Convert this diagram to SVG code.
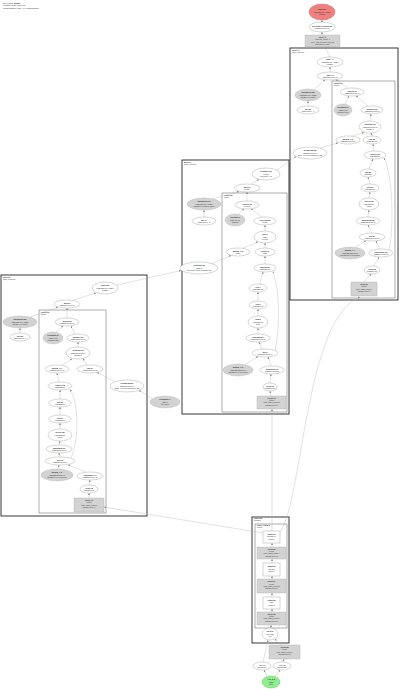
<svg xmlns="http://www.w3.org/2000/svg" width="400" height="689" viewBox="0 0 400 689">
<defs>
<marker id="a" viewBox="0 0 4 4" refX="4" refY="2" markerWidth="2" markerHeight="2" markerUnits="userSpaceOnUse" orient="auto"><path d="M0,0L4,2L0,4z" fill="#888"/></marker>
<style>
.n{fill:#fff;stroke:#888;stroke-width:.35}
.g{fill:#d3d3d3;stroke:#aaa;stroke-width:.35}
.r{fill:#f08080;stroke:#d06060;stroke-width:.4}
.gr{fill:#90ee90;stroke:#50b050;stroke-width:.4}
.c1{fill:none;stroke:#222;stroke-width:.9}
.c2{fill:none;stroke:#777;stroke-width:.6}
.e{fill:none;stroke:#aaa;stroke-width:.35;marker-end:url(#a)}
text{font-family:"Liberation Sans",Arial,sans-serif;font-size:2.1px;fill:#333;text-anchor:middle}
.b{font-weight:bold}
.l{text-anchor:start;font-size:1.9px}
.s{font-size:1.8px}
.t{text-anchor:start;font-size:2.3px}
</style>
</defs>
<g id="title">
<text class="t b" x="3" y="3.5">XLA HLO graph</text>
<text class="t" x="3" y="6.3">Module: train_step.95</text>
<text class="t" x="3" y="9.1">Computation entry (94 instructions)</text>
</g>
<g id="clusters">
<rect class="c1" x="290" y="48" width="108" height="252"/>
<text class="l b" x="292" y="50.6">while.49</text><text class="l" x="292" y="52.7">while_body.27</text>
<rect class="c2" x="332" y="81" width="63" height="217"/>
<text class="l b" x="334" y="83.5">fusion.33</text><text class="l" x="334" y="85.6">kLoop</text>
<rect class="c1" x="182" y="160" width="107" height="254"/>
<text class="l b" x="184" y="162.6">while.17</text><text class="l" x="184" y="164.7">while_cond.12</text>
<rect class="c2" x="222" y="193" width="65" height="219"/>
<text class="l b" x="224" y="195.5">fusion.18</text><text class="l" x="224" y="197.6">kLoop</text>
<rect class="c1" x="1" y="275" width="146" height="241"/>
<text class="l b" x="3" y="277.6">while.60</text><text class="l" x="3" y="279.7">while_body.55</text>
<rect class="c2" x="39" y="310" width="67" height="203"/>
<text class="l b" x="41" y="312.5">fusion.56</text><text class="l" x="41" y="314.6">kLoop</text>
<rect class="c1" x="252" y="517" width="37" height="126"/>
<text class="l b" x="254" y="519.4">fusion.80</text><text class="l" x="254" y="521.4">kOutput</text>
<rect class="c2" x="255" y="524" width="32" height="104"/>
<text class="l b" x="257" y="526.3">fused_comp.8</text><text class="l" x="257" y="528.3">kLoop</text>
</g>
<g id="edges">
<path class="e" d="M322,22L322,20"/>
<path class="e" d="M322,35L322,32"/>
<path class="e" d="M330,57L325,47"/>
<path class="e" d="M330,72L330,67"/>
<path class="e" d="M314,89.5L325,80"/>
<path class="e" d="M348,88.5L336,79.5"/>
<path class="e" d="M308,106L308,101"/>
<path class="e" d="M345,104L349,96"/>
<path class="e" d="M368,106.2L356,95.8"/>
<path class="e" d="M370,121L371,114"/>
<path class="e" d="M352,136.3L364,132.5"/>
<path class="e" d="M372,136L371,133"/>
<path class="e" d="M320,148L338,143"/>
<path class="e" d="M374,151L373,144"/>
<path class="e" d="M369,169L373,159"/>
<path class="e" d="M370,184L368,177"/>
<path class="e" d="M369,198L370,192"/>
<path class="e" d="M368,217L369,210"/>
<path class="e" d="M372,233L368,225"/>
<path class="e" d="M355,247.5L366,240.8"/>
<path class="e" d="M380,249L376,241"/>
<path class="e" d="M389,250C394,230 393,175 384,158"/>
<path class="e" d="M374,266L379,257"/>
<path class="e" d="M364,282L371,274"/>
<path class="e" d="M277,170L296,156.5"/>
<path class="e" d="M251,184.2L259,179.5"/>
<path class="e" d="M212,199L239,191.5"/>
<path class="e" d="M247,201L247,192"/>
<path class="e" d="M204,217L204,210"/>
<path class="e" d="M238,214.5L244,208.8"/>
<path class="e" d="M262,217.2L251,208.8"/>
<path class="e" d="M265,231L265,225"/>
<path class="e" d="M243,248.3L258,241.8"/>
<path class="e" d="M265,248L265,243"/>
<path class="e" d="M212,263.5L231,255.5"/>
<path class="e" d="M265,264L265,256"/>
<path class="e" d="M260,284L263,272"/>
<path class="e" d="M258,301L258,292"/>
<path class="e" d="M258,316L258,309"/>
<path class="e" d="M258,334L258,328"/>
<path class="e" d="M262,349L259,342"/>
<path class="e" d="M275,350C280,330 280,290 273,271.5"/>
<path class="e" d="M245,364.5L258,356.6"/>
<path class="e" d="M271,366L268,357"/>
<path class="e" d="M270,383L271,374"/>
<path class="e" d="M271,396L270,391"/>
<path class="e" d="M272,531L272,409"/>
<path class="e" d="M117,285L181,270.5"/>
<path class="e" d="M73,300.2L96,293"/>
<path class="e" d="M30,317.2L58,307"/>
<path class="e" d="M67,318L67,308"/>
<path class="e" d="M20,333L20,328"/>
<path class="e" d="M56,332.2L63,326"/>
<path class="e" d="M75,334L71,326"/>
<path class="e" d="M78,347L78,342"/>
<path class="e" d="M62,365.2L72,358.8"/>
<path class="e" d="M87,365.2L83,358.5"/>
<path class="e" d="M59,382L57,373"/>
<path class="e" d="M115,381.5L97,372.5"/>
<path class="e" d="M152,398.5L139,390.5"/>
<path class="e" d="M60,399L60,390"/>
<path class="e" d="M60,415L60,407"/>
<path class="e" d="M60,429L60,423"/>
<path class="e" d="M59,445L60,441"/>
<path class="e" d="M60,457L59,453"/>
<path class="e" d="M71,458C79,440 79,402 70,389.5"/>
<path class="e" d="M58,469L59,465"/>
<path class="e" d="M86,472.2L68,464.8"/>
<path class="e" d="M89,485L90,480"/>
<path class="e" d="M89,498L89,493"/>
<path class="e" d="M263,533L104,507"/>
<path class="e" d="M280,532C303,500 305,318 360,297"/>
<path class="e" d="M272,547L272,543"/>
<path class="e" d="M272,563L272,559"/>
<path class="e" d="M272,579L272,576"/>
<path class="e" d="M272,597L272,593"/>
<path class="e" d="M272,612L272,609"/>
<path class="e" d="M271,628L271,625"/>
<path class="e" d="M263,662L268,640"/>
<path class="e" d="M281,645L275,639"/>
<path class="e" d="M283,662L284,659"/>
<path class="e" d="M267,676.5L264,670"/>
<path class="e" d="M275,676.5L280,670"/>
</g>
<g id="nodes">
<g id="t1"><ellipse class="r" cx="322" cy="12" rx="13" ry="8"/><text class="b" x="322" y="10.3">tuple.51</text><text x="322" y="12.6">(f32[128,10], s32[])</text><text x="322" y="14.9">ROOT</text></g>
<g id="t2"><ellipse class="n" cx="322" cy="27" rx="13" ry="5"/><text class="b" x="322" y="26.6">get-tuple-element.50</text><text x="322" y="28.9">f32[128,10]{1,0}</text></g>
<g id="t3"><rect class="g" x="305" y="35" width="35" height="12"/><text class="b s" x="322.5" y="38.1">while.49</text><text class="s" x="322.5" y="40.4">s32[] trip_count=3</text><text class="s" x="322.5" y="42.7">body=body.27 cond=cond.12</text><text class="s" x="322.5" y="45">(f32[128,10], s32[])</text></g>
<g id="r1"><ellipse class="n" cx="330" cy="62" rx="13" ry="5"/><text class="b" x="330" y="60.3">tuple.44</text><text x="330" y="62.6">(f32[128,10], s32[])</text><text x="330" y="64.9">ROOT</text></g>
<g id="r2"><ellipse class="n" cx="330" cy="76" rx="13" ry="4"/><text class="b" x="330" y="75.6">add.43</text><text x="330" y="77.9">f32[128,10]{1,0}</text></g>
<g id="r3"><ellipse class="g" cx="308" cy="95" rx="13" ry="6"/><text class="b" x="308" y="93.3">parameter.28</text><text x="308" y="95.6">(f32[128,10], s32[])</text><text x="308" y="97.9">param 0 of while</text></g>
<g id="r4"><ellipse class="n" cx="308" cy="110" rx="11" ry="4"/><text class="b" x="308" y="109.6">gte.29</text><text x="308" y="111.9">s32[] index=1</text></g>
<g id="r5"><ellipse class="n" cx="310" cy="153" rx="17" ry="6"/><text class="b" x="310" y="151.3">broadcast.35</text><text x="310" y="153.6">f32[128,10]{1,0}</text><text x="310" y="155.9">dims={} from parameter.28</text></g>
<g id="ri1"><ellipse class="n" cx="352" cy="92" rx="12" ry="4"/><text class="b" x="352" y="91.6">fusion.33</text><text x="352" y="93.9">f32[128,10]{1,0}</text></g>
<g id="ri2"><ellipse class="g" cx="343" cy="110" rx="9" ry="6"/><text class="b" x="343" y="108.3">constant.34</text><text x="343" y="110.6">f32[] 0.01</text><text x="343" y="112.9">learning rate</text></g>
<g id="ri3"><ellipse class="n" cx="372" cy="110" rx="11" ry="4"/><text class="b" x="372" y="109.6">multiply.32</text><text x="372" y="111.9">f32[128,10]{1,0}</text></g>
<g id="ri4"><ellipse class="n" cx="370" cy="127" rx="11" ry="6"/><text class="b" x="370" y="125.3">subtract.31</text><text x="370" y="127.6">f32[128,10]{1,0}</text><text x="370" y="129.9">param 1</text></g>
<g id="ri5"><ellipse class="n" cx="348" cy="140" rx="12" ry="4"/><text class="b" x="348" y="139.6">param_0.5</text><text x="348" y="141.9">f32[128,10]{1,0}</text></g>
<g id="ri6"><ellipse class="n" cx="372" cy="140" rx="9" ry="4"/><text class="b" x="372" y="139.6">exp.30</text><text x="372" y="141.9">f32[128,10]</text></g>
<g id="ri7"><ellipse class="n" cx="375" cy="155" rx="11" ry="4"/><text class="b" x="375" y="154.6">reduce.29</text><text x="375" y="156.9">f32[128]{0}</text></g>
<g id="ri8"><ellipse class="n" cx="368" cy="173" rx="8" ry="4"/><text class="b" x="368" y="172.6">log.28</text><text x="368" y="174.9">f32[128]</text></g>
<g id="ri9"><ellipse class="n" cx="370" cy="188" rx="9" ry="4"/><text class="b" x="370" y="187.6">neg.27</text><text x="370" y="189.9">f32[128]{0}</text></g>
<g id="ri10"><ellipse class="n" cx="369" cy="204" rx="10" ry="6"/><text class="b" x="369" y="202.3">divide.26</text><text x="369" y="204.6">f32[128]{0}</text><text x="369" y="206.9">norm</text></g>
<g id="ri11"><ellipse class="n" cx="368" cy="221" rx="12" ry="4"/><text class="b" x="368" y="220.6">maximum.25</text><text x="368" y="222.9">f32[128,10]{1,0}</text></g>
<g id="ri12"><ellipse class="n" cx="372" cy="237" rx="13" ry="4"/><text class="b" x="372" y="236.6">dot.24</text><text x="372" y="238.9">f32[128,10]{1,0}</text></g>
<g id="ri13"><ellipse class="g" cx="350" cy="253" rx="15" ry="6"/><text class="b" x="350" y="251.3">param_1.4</text><text x="350" y="253.6">f32[128,256]{1,0}</text><text x="350" y="255.9">parameter 1 of fusion</text></g>
<g id="ri14"><ellipse class="n" cx="381" cy="253" rx="12" ry="4"/><text class="b" x="381" y="252.6">transpose.23</text><text x="381" y="254.9">f32[256,10]{0,1}</text></g>
<g id="ri15"><ellipse class="n" cx="372" cy="270" rx="8" ry="4"/><text class="b" x="372" y="269.6">copy.22</text><text x="372" y="271.9">f32[256,10]</text></g>
<g id="ri16"><rect class="g" x="351" y="282" width="26" height="14"/><text class="b s" x="364" y="285">fusion.21</text><text class="s" x="364" y="287.4">kInput</text><text class="s" x="364" y="289.8">calls=fused_comp.1</text><text class="s" x="364" y="292.2">f32[256,10]{1,0}</text></g>
<g id="m1"><ellipse class="n" cx="266" cy="174" rx="14" ry="6"/><text class="b" x="266" y="172.3">compare.20</text><text x="266" y="174.6">pred[]</text><text x="266" y="176.9">direction=LT</text></g>
<g id="m2"><ellipse class="n" cx="247" cy="188" rx="13" ry="4"/><text class="b" x="247" y="187.6">and.19</text><text x="247" y="189.9">pred[]</text></g>
<g id="m3"><ellipse class="g" cx="204" cy="204" rx="17" ry="6"/><text class="b" x="204" y="202.3">parameter.13</text><text x="204" y="204.6">(f32[128,10], s32[])</text><text x="204" y="206.9">param 0 of while cond</text></g>
<g id="m4"><ellipse class="n" cx="204" cy="221" rx="12" ry="4"/><text class="b" x="204" y="220.6">gte.14</text><text x="204" y="222.9">s32[] index=1</text></g>
<g id="m5"><ellipse class="n" cx="199" cy="268" rx="19" ry="6"/><text class="b" x="199" y="266.3">constant.15</text><text x="199" y="268.6">s32[] 3</text><text x="199" y="270.9">trip count from compare.20</text></g>
<g id="mi1"><ellipse class="n" cx="247" cy="205" rx="12" ry="4"/><text class="b" x="247" y="204.6">fusion.18</text><text x="247" y="206.9">pred[]{}</text></g>
<g id="mi2"><ellipse class="g" cx="235" cy="220" rx="10" ry="6"/><text class="b" x="235" y="218.3">constant.9</text><text x="235" y="220.6">f32[] 1e-06</text><text x="235" y="222.9">epsilon</text></g>
<g id="mi3"><ellipse class="n" cx="265" cy="221" rx="11" ry="4"/><text class="b" x="265" y="220.6">less-than.8</text><text x="265" y="222.9">pred[]</text></g>
<g id="mi4"><ellipse class="n" cx="265" cy="237" rx="11" ry="6"/><text class="b" x="265" y="235.3">abs.7</text><text x="265" y="237.6">f32[]</text><text x="265" y="239.9">of loss</text></g>
<g id="mi5"><ellipse class="n" cx="238" cy="252" rx="12" ry="4"/><text class="b" x="238" y="251.6">param_0.3</text><text x="238" y="253.9">s32[]</text></g>
<g id="mi6"><ellipse class="n" cx="265" cy="252" rx="10" ry="4"/><text class="b" x="265" y="251.6">reduce.6</text><text x="265" y="253.9">f32[]</text></g>
<g id="mi7"><ellipse class="n" cx="265" cy="268" rx="11" ry="4"/><text class="b" x="265" y="267.6">multiply.5</text><text x="265" y="269.9">f32[128,10]</text></g>
<g id="mi8"><ellipse class="n" cx="258" cy="288" rx="9" ry="4"/><text class="b" x="258" y="287.6">exp.4</text><text x="258" y="289.9">f32[128,10]</text></g>
<g id="mi9"><ellipse class="n" cx="258" cy="305" rx="9" ry="4"/><text class="b" x="258" y="304.6">log.3</text><text x="258" y="306.9">f32[128,10]</text></g>
<g id="mi10"><ellipse class="n" cx="258" cy="322" rx="10" ry="6"/><text class="b" x="258" y="320.3">add.2</text><text x="258" y="322.6">f32[128,10]</text><text x="258" y="324.9">bias</text></g>
<g id="mi11"><ellipse class="n" cx="258" cy="338" rx="12" ry="4"/><text class="b" x="258" y="337.6">maximum.1</text><text x="258" y="339.9">f32[128,10]{1,0}</text></g>
<g id="mi12"><ellipse class="n" cx="265" cy="353" rx="13" ry="4"/><text class="b" x="265" y="352.6">dot.0</text><text x="265" y="354.9">f32[128,10]{1,0}</text></g>
<g id="mi13"><ellipse class="g" cx="238" cy="370" rx="15" ry="6"/><text class="b" x="238" y="368.3">param_1.2</text><text x="238" y="370.6">f32[128,256]{1,0}</text><text x="238" y="372.9">parameter 1 of fusion</text></g>
<g id="mi14"><ellipse class="n" cx="272" cy="370" rx="12" ry="4"/><text class="b" x="272" y="369.6">transpose.11</text><text x="272" y="371.9">f32[256,10]{0,1}</text></g>
<g id="mi15"><ellipse class="n" cx="270" cy="387" rx="7" ry="4"/><text class="b" x="270" y="386.6">copy.10</text><text x="270" y="388.9">f32[256,10]</text></g>
<g id="mi16"><rect class="g" x="257" y="396" width="29" height="13"/><text class="b s" x="271.5" y="398.8">fusion.16</text><text class="s" x="271.5" y="401.1">kInput</text><text class="s" x="271.5" y="403.4">calls=fused_comp.2</text><text class="s" x="271.5" y="405.7">f32[256,10]{1,0}</text></g>
<g id="l1"><ellipse class="n" cx="105" cy="288" rx="13" ry="6"/><text class="b" x="105" y="286.3">tuple.58</text><text x="105" y="288.6">(f32[128,10], s32[])</text><text x="105" y="290.9">ROOT</text></g>
<g id="l2"><ellipse class="n" cx="67" cy="304" rx="13" ry="4"/><text class="b" x="67" y="303.6">add.57</text><text x="67" y="305.9">f32[128,10]{1,0}</text></g>
<g id="l3"><ellipse class="g" cx="20" cy="322" rx="17" ry="6"/><text class="b" x="20" y="320.3">parameter.52</text><text x="20" y="322.6">(f32[128,10], s32[])</text><text x="20" y="324.9">param 0 of while</text></g>
<g id="l4"><ellipse class="n" cx="20" cy="337" rx="10" ry="4"/><text class="b" x="20" y="336.6">gte.53</text><text x="20" y="338.9">s32[] index=1</text></g>
<g id="l5"><ellipse class="n" cx="127" cy="386" rx="17" ry="6"/><text class="b" x="127" y="384.3">broadcast.59</text><text x="127" y="386.6">f32[128,10]{1,0}</text><text x="127" y="388.9">dims={} from parameter.52</text></g>
<g id="li1"><ellipse class="n" cx="67" cy="322" rx="12" ry="4"/><text class="b" x="67" y="321.6">fusion.56</text><text x="67" y="323.9">f32[128,10]{1,0}</text></g>
<g id="li2"><ellipse class="g" cx="53" cy="338" rx="10" ry="6"/><text class="b" x="53" y="336.3">constant.61</text><text x="53" y="338.6">f32[] 0.01</text><text x="53" y="340.9">learning rate</text></g>
<g id="li3"><ellipse class="n" cx="78" cy="338" rx="11" ry="4"/><text class="b" x="78" y="337.6">multiply.62</text><text x="78" y="339.9">f32[128,10]{1,0}</text></g>
<g id="li4"><ellipse class="n" cx="78" cy="353" rx="12" ry="6"/><text class="b" x="78" y="351.3">subtract.63</text><text x="78" y="353.6">f32[128,10]{1,0}</text><text x="78" y="355.9">param 1</text></g>
<g id="li5"><ellipse class="n" cx="57" cy="369" rx="12" ry="4"/><text class="b" x="57" y="368.6">param_0.7</text><text x="57" y="370.9">f32[128,10]{1,0}</text></g>
<g id="li6"><ellipse class="n" cx="90" cy="369" rx="13" ry="4"/><text class="b" x="90" y="368.6">exp.64</text><text x="90" y="370.9">f32[128,10]{1,0}</text></g>
<g id="li7"><ellipse class="n" cx="60" cy="386" rx="12" ry="4"/><text class="b" x="60" y="385.6">reduce.65</text><text x="60" y="387.9">f32[128]{0}</text></g>
<g id="li8"><ellipse class="n" cx="60" cy="403" rx="11" ry="4"/><text class="b" x="60" y="402.6">log.66</text><text x="60" y="404.9">f32[128]{0}</text></g>
<g id="li9"><ellipse class="n" cx="60" cy="419" rx="11" ry="4"/><text class="b" x="60" y="418.6">neg.67</text><text x="60" y="420.9">f32[128]{0}</text></g>
<g id="li10"><ellipse class="n" cx="60" cy="435" rx="12" ry="6"/><text class="b" x="60" y="433.3">divide.68</text><text x="60" y="435.6">f32[128]{0}</text><text x="60" y="437.9">norm</text></g>
<g id="li11"><ellipse class="n" cx="59" cy="449" rx="13" ry="4"/><text class="b" x="59" y="448.6">maximum.69</text><text x="59" y="450.9">f32[128,10]{1,0}</text></g>
<g id="li12"><ellipse class="n" cx="60" cy="461" rx="15" ry="4"/><text class="b" x="60" y="460.6">dot.70</text><text x="60" y="462.9">f32[128,10]{1,0}</text></g>
<g id="li13"><ellipse class="g" cx="57" cy="475" rx="16" ry="6"/><text class="b" x="57" y="473.3">param_1.6</text><text x="57" y="475.6">f32[128,256]{1,0}</text><text x="57" y="477.9">parameter 1 of fusion</text></g>
<g id="li14"><ellipse class="n" cx="90" cy="476" rx="13" ry="4"/><text class="b" x="90" y="475.6">transpose.71</text><text x="90" y="477.9">f32[256,10]{0,1}</text></g>
<g id="li15"><ellipse class="n" cx="89" cy="489" rx="9" ry="4"/><text class="b" x="89" y="488.6">copy.72</text><text x="89" y="490.9">f32[256,10]</text></g>
<g id="li16"><rect class="g" x="74" y="498" width="30" height="14"/><text class="b s" x="89" y="501">fusion.73</text><text class="s" x="89" y="503.4">kInput</text><text class="s" x="89" y="505.8">calls=fused_comp.3</text><text class="s" x="89" y="508.2">f32[256,10]{1,0}</text></g>
<g id="g1"><ellipse class="g" cx="165" cy="402" rx="15" ry="6"/><text class="b" x="165" y="400.3">constant.74</text><text x="165" y="402.6">f32[] 0</text><text x="165" y="404.9">init value</text></g>
<g id="b1"><rect class="n" x="263" y="531" width="17" height="12"/><text class="b s" x="271.5" y="534.6">param.81</text><text class="s" x="271.5" y="537.2">f32[128,10]</text><text class="s" x="271.5" y="539.8">param 0</text></g>
<g id="b2"><rect class="g" x="257" y="547" width="29" height="12"/><text class="b s" x="271.5" y="549.6">fusion.82</text><text class="s" x="271.5" y="551.9">kLoop</text><text class="s" x="271.5" y="554.2">calls=fused_comp.4</text><text class="s" x="271.5" y="556.5">f32[128,10]{1,0}</text></g>
<g id="b3"><rect class="n" x="263" y="563" width="17" height="13"/><text class="b s" x="271.5" y="566.9">param.83</text><text class="s" x="271.5" y="569.5">f32[128]</text><text class="s" x="271.5" y="572.1">param 1</text></g>
<g id="b4"><rect class="g" x="257" y="579" width="29" height="14"/><text class="b s" x="271.5" y="582.2">fusion.84</text><text class="s" x="271.5" y="584.6">kLoop</text><text class="s" x="271.5" y="587">calls=fused_comp.5</text><text class="s" x="271.5" y="589.4">f32[128,10]{1,0}</text></g>
<g id="b5"><rect class="n" x="263" y="597" width="17" height="12"/><text class="b s" x="271.5" y="600.6">param.85</text><text class="s" x="271.5" y="603.2">s32[]</text><text class="s" x="271.5" y="605.8">param 2</text></g>
<g id="b6"><rect class="g" x="257" y="612" width="29" height="13"/><text class="b s" x="271.5" y="614.8">fusion.86</text><text class="s" x="271.5" y="617.1">kLoop</text><text class="s" x="271.5" y="619.4">calls=fused_comp.6</text><text class="s" x="271.5" y="621.7">f32[128,10]{1,0}</text></g>
<g id="b7"><ellipse class="n" cx="270" cy="634" rx="8" ry="6"/><text class="b s" x="270" y="632.3">tuple.87</text><text class="s" x="270" y="634.6">(f32, s32)</text><text class="s" x="270" y="636.9">init</text></g>
<g id="b8"><rect class="g" x="269" y="645" width="31" height="14"/><text class="b s" x="284.5" y="648">fusion.88</text><text class="s" x="284.5" y="650.4">kLoop</text><text class="s" x="284.5" y="652.8">calls=fused_comp.7</text><text class="s" x="284.5" y="655.2">f32[128,10]{1,0}</text></g>
<g id="b9"><ellipse class="n" cx="262" cy="666" rx="9" ry="4"/><text class="b s" x="262" y="665.6">Arg_0.1</text><text class="s" x="262" y="667.8">f32[128,10]</text></g>
<g id="b10"><ellipse class="n" cx="282" cy="666" rx="9" ry="4"/><text class="b s" x="282" y="665.6">Arg_1.2</text><text class="s" x="282" y="667.8">f32[128,256]</text></g>
<g id="b11"><ellipse class="gr" cx="271" cy="682" rx="9" ry="6"/><text class="b" x="271" y="680.3">Arg_2.3</text><text x="271" y="682.6">s32[]</text><text x="271" y="684.9">entry</text></g>
</g>
</svg>
